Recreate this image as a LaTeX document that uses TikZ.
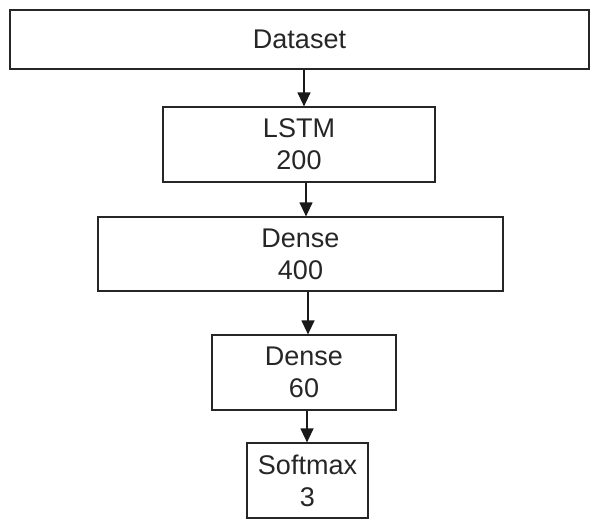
\documentclass[tikz,border=0pt]{standalone}
\usepackage{fontspec}
\setmainfont{Liberation Sans}
\usetikzlibrary{arrows.meta}

\tikzset{
  layer/.style={draw=black!85, line width=1.2pt, align=center, inner sep=0pt,
    font=\fontsize{27}{32}\selectfont, text=black!85},
  arr/.style={draw=black!90, line width=1.2pt,
    -{Triangle[length=14pt,width=13pt]}}
}

\begin{document}
\begin{tikzpicture}[x=1pt,y=-1pt]
  % 1. Frame
  \useasboundingbox (0,0) rectangle (599,528);

  % 2. Layers
  \node[layer, minimum width=579pt, minimum height=59pt] (data) at (299.5,39.5) {Dataset};
  \node[layer, minimum width=272pt, minimum height=75pt] (lstm) at (299,144.5) {LSTM\\200};
  \node[layer, minimum width=405pt, minimum height=74pt] (dense1) at (300.5,254) {Dense\\400};
  \node[layer, minimum width=184pt, minimum height=75pt] (dense2) at (304,372.5) {Dense\\60};
  \node[layer, minimum width=121pt, minimum height=75pt] (soft) at (307.5,480.5) {Softmax\\3};

  % 3. Connections
  \draw[arr] ([xshift=4.5pt]data.south) -- ([xshift=5pt]lstm.north);
  \draw[arr] ([xshift=7pt]lstm.south) -- ([xshift=5.5pt]dense1.north);
  \draw[arr] ([xshift=7.5pt]dense1.south) -- ([xshift=4pt]dense2.north);
  \draw[arr] ([xshift=3pt]dense2.south) -- ([xshift=-0.5pt]soft.north);
\end{tikzpicture}
\end{document}
